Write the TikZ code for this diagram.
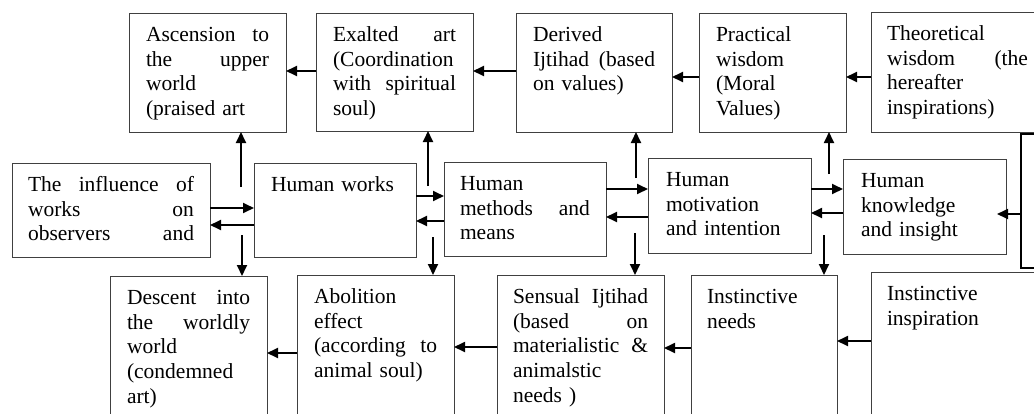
\documentclass[tikz,border=0pt]{standalone}
\usepackage{fontspec}
\setmainfont{Liberation Serif}
\usetikzlibrary{arrows.meta}
\newcommand{\bxfont}{\fontsize{21.5pt}{24.7pt}\selectfont}
\newcommand{\jline}[1]{\leavevmode\hbox to \hsize{\spaceskip=0.25em plus 10em minus 0.05em\relax #1}}
\tikzset{
  box/.style={draw=black!75, line width=0.9pt, anchor=north west, inner xsep=17pt,
    inner ysep=0pt, outer sep=0pt, text height=28.5pt, font=\bxfont, align=left},
  thickbox/.style={draw=black, line width=2pt, anchor=north west, inner sep=0pt, outer sep=0pt},
  arr/.style={line width=1.8pt, -{Triangle[length=11pt,width=10pt]}},
}
\begin{document}
\begin{tikzpicture}[x=1pt,y=-1pt]
\useasboundingbox (0,0) rectangle (1034,413);
\clip (0,0) rectangle (1034,413);
% top row
\node[box, text width=123pt, text depth=90.5pt] (asc) at (129,13)
  {\jline{Ascension to}\\ \jline{the upper}\\ world\\ (praised art};
\node[box, text width=123pt, text depth=89.5pt] (exa) at (316,13)
  {\jline{Exalted art}\\ (Coordination\\ \jline{with spiritual}\\ soul)};
\node[box, text width=122pt, text depth=90.5pt] (der) at (516,13)
  {Derived\\ \jline{Ijtihad (based}\\ on values)};
\node[box, text width=113pt, text depth=90.5pt] (pra) at (699,13)
  {Practical\\ wisdom\\ (Moral\\ Values)};
\node[box, inner xsep=16pt, text width=141pt, text depth=91.5pt] (the) at (871,12)
  {Theoretical\\ \jline{wisdom (the}\\ hereafter\\ inspirations)};
% middle row
\node[box, inner xsep=16pt, text width=166pt, text depth=65.5pt] (inf) at (12,163)
  {\jline{The influence of}\\ \jline{works on}\\ \jline{observers and}};
\node[box, text width=128pt, text depth=65.5pt] (wrk) at (254,163)
  {Human works};
\node[box, inner xsep=16pt, text width=130pt, text depth=65.5pt] (met) at (444,162)
  {Human\\ \jline{methods and}\\ means};
\node[box, inner xsep=18pt, text width=127pt, text depth=66.5pt] (mot) at (648,158)
  {Human\\ motivation\\ and intention};
\node[box, inner xsep=18pt, text width=127pt, text depth=66.5pt] (kno) at (843,159)
  {Human\\ knowledge\\ and insight};
\node[thickbox, minimum width=100pt, minimum height=134pt] (rgt) at (1021,134) {};
% bottom row
\node[box, text width=123pt, text depth=125.5pt] (des) at (110,276)
  {\jline{Descent into}\\ \jline{the worldly}\\ world\\ (condemned\\ art)};
\node[box, text width=123pt, text depth=126.5pt] (abo) at (297,275)
  {Abolition\\ effect\\ \jline{(according to}\\ animal soul)};
\node[box, inner xsep=16pt, text width=135pt, text depth=126.5pt] (sen) at (497,275)
  {\jline{Sensual Ijtihad}\\ \jline{(based on}\\ \jline{materialistic \&}\\ animalstic\\ needs )};
\node[box, inner xsep=16pt, text width=114pt, text depth=126.5pt] (ned) at (691,275)
  {Instinctive\\ needs};
\node[box, inner xsep=16pt, text width=168pt, text depth=129.5pt] (ins) at (871,272)
  {Instinctive\\ inspiration};
% horizontal connectors
\coordinate (h1) at ([yshift=1pt]exa.west);
\coordinate (h2) at ([yshift=1.5pt]der.west);
\coordinate (h3) at ([yshift=-4.5pt]pra.west);
\coordinate (h4) at ([yshift=-5pt]the.west);
\coordinate (h5) at ([yshift=2pt]inf.east);
\coordinate (h6) at ([yshift=-15pt]wrk.west);
\coordinate (h7) at ([yshift=14pt]wrk.east);
\coordinate (h8) at ([yshift=-12pt]met.west);
\coordinate (h9) at ([yshift=20pt]met.east);
\coordinate (h10) at ([yshift=-11.5pt]mot.west);
\coordinate (h11) at ([yshift=16.5pt]mot.east);
\coordinate (h12) at ([yshift=-6.5pt]kno.west);
\coordinate (h13) at ([yshift=-13pt]rgt.west);
\coordinate (h14) at ([yshift=-0.5pt]abo.west);
\coordinate (h15) at ([yshift=5.5pt]sen.west);
\coordinate (h16) at ([yshift=4.5pt]ned.west);
\coordinate (h17) at ([yshift=10pt]ins.west);
\draw[arr] (h1) -- (h1 -| asc.east);
\draw[arr] (h2) -- (h2 -| exa.east);
\draw[arr] (h3) -- (h3 -| der.east);
\draw[arr] (h4) -- (h4 -| pra.east);
\draw[arr] (h5) -- (h5 -| wrk.west);
\draw[arr] (h6) -- (h6 -| inf.east);
\draw[arr] (h7) -- (h7 -| met.west);
\draw[arr] (h8) -- (h8 -| wrk.east);
\draw[arr] (h9) -- (h9 -| mot.west);
\draw[arr] (h10) -- (h10 -| met.east);
\draw[arr] (h11) -- (h11 -| kno.west);
\draw[arr] (h12) -- (h12 -| mot.east);
\draw[arr, shorten >=-9pt] (h13) -- (h13 -| kno.east);
\draw[arr] (h14) -- (h14 -| des.east);
\draw[arr] (h15) -- (h15 -| abo.east);
\draw[arr] (h16) -- (h16 -| sen.east);
\draw[arr] (h17) -- (h17 -| ned.east);
% vertical connectors
\coordinate (u1) at ([xshift=-13pt,yshift=-24pt]wrk.north west);
\coordinate (d1) at ([xshift=-12pt,yshift=22pt]wrk.south west);
\coordinate (u2) at ([xshift=12pt,yshift=-23pt]wrk.north east);
\coordinate (d2) at ([xshift=17pt,yshift=20pt]wrk.south east);
\coordinate (u3) at ([xshift=30pt,yshift=-16pt]met.north east);
\coordinate (d3) at ([xshift=29pt,yshift=23pt]met.south east);
\coordinate (u4) at ([xshift=18pt,yshift=-16pt]mot.north east);
\coordinate (d4) at ([xshift=13pt,yshift=18pt]mot.south east);
\draw[arr] (u1) -- (u1 |- asc.south);
\draw[arr] (d1) -- (d1 |- des.north);
\draw[arr] (u2) -- (u2 |- exa.south);
\draw[arr] (d2) -- (d2 |- abo.north);
\draw[arr] (u3) -- (u3 |- der.south);
\draw[arr] (d3) -- (d3 |- sen.north);
\draw[arr] (u4) -- (u4 |- pra.south);
\draw[arr] (d4) -- (d4 |- ned.north);
\end{tikzpicture}
\end{document}
